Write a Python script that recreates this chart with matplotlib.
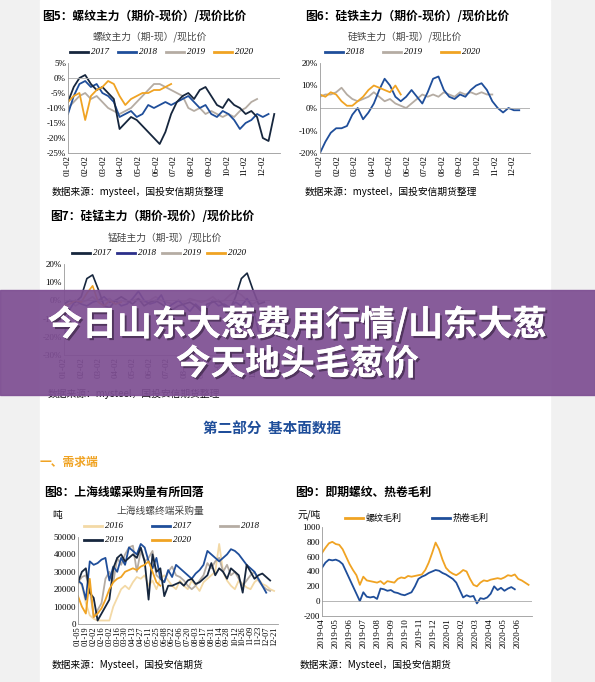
import matplotlib
matplotlib.use("Agg")
import matplotlib.pyplot as plt
import matplotlib.patheffects as pe
import numpy as np
from matplotlib.patches import Rectangle

plt.rcParams['font.family'] = ['Noto Sans CJK SC', 'DejaVu Sans']
W, H = 595, 682
SERIF = ['Liberation Serif', 'Noto Sans CJK SC', 'DejaVu Serif']

# ---------------- data ----------------
months_f5 = ['01-02','02-02','03-02','04-02','05-02','06-02','07-02','08-02','09-02','10-02','11-02','12-02']
f5_2017 = [-8,-3,0,1,-2,-4,-3,-5,-7,-17,-15,-13,-14,-16,-18,-20,-22,-18,-12,-8,-6,-5,-7,-4,-3,-6,-9,-10,-7,-9,-10,-12,-11,-13,-20,-21,-12]
f5_2018 = [-12,-6,-2,-1,-3,-2,-5,-6,-8,-13,-12,-11,-13,-12,-9,-10,-9,-8,-9,-8,-7,-6,-8,-10,-9,-12,-13,-11,-12,-14,-17,-15,-14,-12,-13,-12]
f5_2019 = [-10,-8,-6,-5,-7,-6,-8,-10,-11,-12,-11,-10,-8,-6,-4,-2,-2,-3,-4,-5,-6,-10,-11,-10,-12,-11,-12,-13,-12,-13,-11,-10,-8,-7]
f5_2020 = [-8,-6,-5,-14,-6,-4,-3,-1,-2,-6,-9,-7,-6,-5,-5,-4,-4,-3,-2]

f6_2018 = [-20,-15,-11,-9,-9,-8,-3,0,-5,-2,2,8,13,10,5,3,5,8,5,2,7,13,14,8,5,4,6,5,8,10,11,8,3,0,-2,0,-1,-1]
f6_2019 = [5,6,6,7,9,6,4,3,4,5,7,5,3,4,2,1,0,2,4,6,5,6,5,7,6,5,7,6,7,6,7,6,6]
f6_2020 = [6,5,7,6,3,1,1,3,5,8,10,9,8,7,10,6]

f7_2017 = [-2,0,-1,2,12,14,6,-3,-4,0,2,0,-2,1,-3,-1,0,-2,-4,-5,-3,-2,-1,-3,-6,-2,-1,0,-3,-5,2,12,15,6,-2,-1]
f7_2018 = [-20,-5,0,-2,-3,-1,0,2,-1,0,-3,-2,1,5,0,-2,-1,3,-4,-2,0,-3,-6,-2,-5,-4,0,-3,-2,-4,-1,-3,1,-4,-17,-18]
f7_2019 = [-2,0,-3,-1,0,2,-1,0,1,-2,0,-1,0,1,-1,0,2,0,-1,-2,0,-1,1,0,-1,0,2,-1,0,3,5,3,0,-2,0,-1]
f7_2020 = [-3,-2,0,-1,4,8,-1,-3,0,-2,-1]

f8_labels = ['01-05','01-19','02-02','02-16','03-02','03-16','03-30','04-13','04-27','05-11','05-25','06-08','06-22',
             '07-06','07-20','08-03','08-17','08-31','09-14','09-28','10-12','10-26','11-09','11-23','12-07','12-21']
f8_2016 = [25000,22000,12000,5000,3000,2000,2000,2000,2000,10000,15000,20000,22000,20000,24000,27000,26000,28000,22000,25000,
           20000,26000,28000,25000,22000,20000,25000,22000,20000,25000,22000,19000,24000,26000,28000,30000,46000,30000,25000,
           22000,20000,25000,23000,21000,20000,24000,26000,23000,22000,20000,19000]
f8_2017 = [25000,23000,14000,36000,34000,35000,37000,38000,25000,33000,30000,38000,34000,44000,42000,40000,46000,44000,
           36000,32000,38000,26000,24000,31000,27000,34000,32000,30000,28000,26000,29000,31000,34000,42000,40000,38000,
           36000,38000,40000,43000,42000,40000,37000,34000,32000,30000,26000,22000,18000]
f8_2018 = [24000,27000,28000,20000,4000,8000,12000,26000,30000,24000,38000,34000,40000,44000,45000,30000,42000,36000,
           38000,42000,28000,26000,24000,30000,33000,28000,27000,25000,22000,20000,22000,25000,28000,35000,32000,36000,
           38000,30000,34000,28000,30000,26000,22000,25000,28000,30000,25000,22000,20000,19000]
f8_2019 = [24000,30000,32000,18000,15000,2000,6000,10000,14000,32000,38000,40000,36000,38000,40000,38000,44000,36000,
           14000,40000,30000,32000,16000,22000,22000,23000,24000,22000,25000,26000,23000,24000,26000,28000,35000,28000,
           32000,30000,26000,32000,30000,28000,18000,34000,30000,26000,28000,29000,27000,25000]
f8_2020 = [16000,10000,6000,26000,4000,6000,9000,14000,20000,24000,26000,27000,30000,31000,32000,31000,33000,34000,36000,30000,24000,22000]

f9_labels = ['2019-04','2019-05','2019-06','2019-07','2019-08','2019-09','2019-10','2019-11','2019-12',
             '2020-01','2020-02','2020-03','2020-04','2020-05','2020-06']
f9_rebar = [650,720,780,800,770,760,700,600,500,420,350,220,330,280,270,260,250,270,230,270,260,250,300,320,310,340,330,
            340,350,360,420,520,650,790,700,560,450,400,370,350,380,420,400,300,220,200,250,280,270,290,300,310,300,320,
            350,340,360,300,280,250,220]
f9_hrc = [450,520,560,550,560,540,500,400,300,200,100,0,120,60,50,60,30,170,160,140,150,120,110,90,80,100,120,200,300,
          330,350,380,400,420,410,380,360,330,300,250,150,50,80,60,70,-30,40,30,50,100,200,150,180,140,170,190,160]

C17, C18, C19, C20 = '#16263d', '#1f4e9a', '#b5aca3', '#f0a323'

fig = plt.figure(figsize=(W/100, H/100), dpi=100)
fig.patch.set_facecolor('#f1f1f1')
fig.add_artist(Rectangle((40/W, 0), 510/W, 1, transform=fig.transFigure, color='white', zorder=0))

def fx(x): return x/W
def fy(y): return 1-y/H
def txt(x, y, s, **kw): fig.text(fx(x), fy(y), s, **kw)

def mkax(x0, y0, x1, y1):
    ax = fig.add_axes([fx(x0), fy(y1), (x1-x0)/W, (y1-y0)/H])
    for sp in ['top', 'right']:
        ax.spines[sp].set_visible(False)
    for sp in ['left', 'bottom']:
        ax.spines[sp].set_color('#999999'); ax.spines[sp].set_linewidth(0.6)
    ax.tick_params(length=0, labelsize=6.5, pad=1.5)
    return ax

def legend(x, y, items, gap, fs=6.5):
    for i, (lab, c) in enumerate(items):
        xx = x + i*gap
        fig.add_artist(plt.Line2D([fx(xx), fx(xx+18)], [fy(y), fy(y)], color=c, lw=2, transform=fig.transFigure))
        txt(xx+21, y, lab, fontsize=fs, style='italic', va='center', family=SERIF)

# ---------- Fig5 ----------
txt(42, 16, '图5：螺纹主力（期价-现价）/现价比价', fontsize=8.5, weight='bold', va='center')
txt(150, 37, '螺纹主力（期-现）/现比价', fontsize=7, style='italic', color='#444', ha='center', va='center')
legend(70, 52, [('2017', C17), ('2018', C18), ('2019', C19), ('2020', C20)], 48)
ax = mkax(68, 63, 280, 153)
for ys, c in [(f5_2019, C19), (f5_2018, C18), (f5_2017, C17), (f5_2020, C20)]:
    ax.plot(np.arange(len(ys)), ys, color=c, lw=1.3)
ax.set_ylim(-25, 5); ax.set_yticks(range(-25, 6, 5))
ax.set_yticklabels([f'{v}%' for v in range(-25, 6, 5)], family=SERIF)
ax.axhline(0, color='#aaa', lw=0.6)
ax.set_xlim(0, 37); ax.set_xticks(np.arange(12)*37/12)
ax.set_xticklabels(months_f5, rotation=90, family=SERIF)
txt(52, 192, '数据来源：mysteel，国投安信期货整理', fontsize=7, va='center')

# ---------- Fig6 ----------
txt(305, 16, '图6：硅铁主力（期价-现价）/现价比价', fontsize=8.5, weight='bold', va='center')
txt(405, 37, '硅铁主力（期-现）/现比价', fontsize=7, style='italic', color='#444', ha='center', va='center')
legend(325, 52, [('2018', C18), ('2019', C19), ('2020', C20)], 58)
ax = mkax(320, 63, 530, 153)
for ys, c in [(f6_2019, C19), (f6_2018, C18), (f6_2020, C20)]:
    ax.plot(np.arange(len(ys)), ys, color=c, lw=1.3)
ax.set_ylim(-20, 20); ax.set_yticks(range(-20, 21, 10))
ax.set_yticklabels([f'{v}%' for v in range(-20, 21, 10)], family=SERIF)
ax.axhline(0, color='#aaa', lw=0.6)
ax.set_xlim(0, 39); ax.set_xticks(np.arange(12)*39/12)
ax.set_xticklabels(months_f5, rotation=90, family=SERIF)
txt(305, 192, '数据来源：mysteel，国投安信期货整理', fontsize=7, va='center')

# ---------- Fig7 ----------
txt(50, 217, '图7：硅锰主力（期价-现价）/现价比价', fontsize=8.5, weight='bold', va='center')
txt(165, 238, '锰硅主力（期-现）/现比价', fontsize=7, style='italic', color='#444', ha='center', va='center')
legend(72, 253, [('2017', C17), ('2018', '#2b2f8a'), ('2019', C19), ('2020', C20)], 45)
ax = mkax(64, 264, 270, 355)
for ys, c in [(f7_2019, C19), (f7_2018, '#2b2f8a'), (f7_2017, C17), (f7_2020, C20)]:
    ax.plot(np.arange(len(ys)), ys, color=c, lw=1.2)
ax.set_ylim(-30, 20); ax.set_yticks(range(-30, 21, 10))
ax.set_yticklabels([f'{v}%' for v in range(-30, 21, 10)], family=SERIF)
ax.axhline(0, color='#aaa', lw=0.6)
ax.set_xlim(0, 36); ax.set_xticks(np.arange(12)*36/12)
ax.set_xticklabels(months_f5, rotation=90, family=SERIF)
txt(48, 394, '数据来源：mysteel，国投安信期货整理', fontsize=7, va='center')

# ---------- banner ----------
fig.add_artist(Rectangle((0, fy(395)), 1, (395-290)/H, transform=fig.transFigure,
                         color='#7e4f93', alpha=0.93, zorder=10))
shadow = [pe.withSimplePatchShadow(offset=(1.5, -1.5), shadow_rgbFace='#3a2545', alpha=0.7), pe.Normal()]
fig.text(0.5, fy(324), '今日山东大葱费用行情/山东大葱', fontsize=25, weight='heavy', color='white',
         ha='center', va='center', zorder=11, path_effects=shadow)
fig.text(0.5, fy(364), '今天地头毛葱价', fontsize=25, weight='heavy', color='white',
         ha='center', va='center', zorder=11, path_effects=shadow)

# ---------- section headers ----------
txt(272, 429, '第二部分  基本面数据', fontsize=10.5, weight='bold', color='#1f4e9a', ha='center', va='center')
txt(40, 462, '一、需求端', fontsize=8.5, weight='bold', color='#f0a323', va='center')

# ---------- Fig8 ----------
txt(44, 492, '图8：上海线螺采购量有所回落', fontsize=8.5, weight='bold', va='center')
txt(52, 515, '吨', fontsize=7, va='center')
txt(160, 511, '上海线螺终端采购量', fontsize=7, style='italic', color='#444', ha='center', va='center')
legend(84, 526, [('2016', '#f3d9a6'), ('2017', C18), ('2018', C19)], 68)
legend(84, 540, [('2019', C17), ('2020', C20)], 68)
ax = mkax(78, 537, 278, 624)
for ys, c in [(f8_2016, '#f3d9a6'), (f8_2018, C19), (f8_2017, C18), (f8_2019, C17), (f8_2020, C20)]:
    ax.plot(np.arange(len(ys)), ys, color=c, lw=1.3)
ax.set_ylim(0, 50000); ax.set_yticks(range(0, 50001, 10000))
ax.set_yticklabels([str(v) for v in range(0, 50001, 10000)], family=SERIF)
ax.set_xlim(0, 51); ax.set_xticks(np.arange(26)*2)
ax.set_xticklabels(f8_labels, rotation=90, family=SERIF, fontsize=6)
txt(52, 665, '数据来源：Mysteel，国投安信期货', fontsize=7, va='center')

# ---------- Fig9 ----------
txt(295, 492, '图9：即期螺纹、热卷毛利', fontsize=8.5, weight='bold', va='center')
txt(298, 515, '元/吨', fontsize=7, va='center')
legend(345, 518, [('螺纹毛利', C20), ('热卷毛利', C18)], 87)
ax = mkax(322, 527, 532, 616)
ax.plot(np.arange(len(f9_rebar)), f9_rebar, color=C20, lw=1.3)
ax.plot(np.arange(len(f9_hrc)), f9_hrc, color=C18, lw=1.3)
ax.set_ylim(-200, 1000); ax.set_yticks(range(-200, 1001, 200))
ax.set_yticklabels([str(v) for v in range(-200, 1001, 200)], family=SERIF)
ax.axhline(0, color='#aaa', lw=0.6)
ax.set_xlim(0, 61); ax.set_xticks(np.arange(15)*61/15)
ax.set_xticklabels(f9_labels, rotation=90, family=SERIF)
txt(300, 665, '数据来源：Mysteel，国投安信期货', fontsize=7, va='center')

fig.savefig('out.png', dpi=100)
